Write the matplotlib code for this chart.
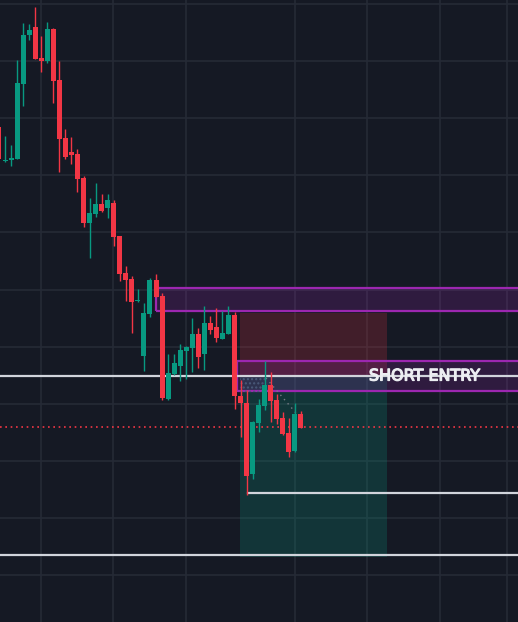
import numpy as np
import matplotlib
matplotlib.use("Agg")
import matplotlib.pyplot as plt
import matplotlib.patheffects as pe
from matplotlib.patches import Rectangle

# candles (price units, higher = up)
opens = [495, 461, 462, 463, 538, 587, 595, 564, 561, 593, 542, 484, 470, 468, 444,
         399, 408, 418, 414, 419, 386, 349, 343, 321, 266, 308, 342, 326, 223, 248,
         256, 271, 274, 288, 268, 299, 295, 283, 288, 307, 226, 219, 148, 199, 216,
         237, 222, 204, 189, 171, 208]
closes = [463, 461, 464, 539, 587, 592, 563, 561, 593, 541, 483, 465, 467, 443, 399,
          409, 418, 411, 422, 385, 348, 342, 320, 322, 309, 342, 325, 224, 249, 259,
          272, 275, 288, 265, 299, 292, 284, 289, 307, 226, 219, 146, 200, 217, 237,
          221, 203, 188, 170, 208, 194]
highs = [497, 486, 477, 562, 599, 598, 615, 586, 600, 594, 561, 493, 485, 473, 446,
         424, 439, 428, 428, 422, 386, 356, 346, 333, 319, 344, 348, 329, 268, 268,
         278, 276, 304, 294, 316, 306, 314, 311, 316, 310, 242, 232, 201, 223, 261,
         250, 228, 210, 204, 219, 211]
lows = [460, 460, 456, 463, 516, 582, 563, 550, 559, 519, 450, 463, 458, 430, 395,
        364, 405, 410, 404, 376, 341, 321, 289, 320, 251, 305, 325, 222, 222, 247,
        241, 243, 250, 254, 252, 288, 280, 283, 288, 213, 185, 127, 143, 190, 212,
        200, 198, 187, 165, 170, 194]

upper_zone = (311, 334)      # supply zone
lower_zone = (231, 261)      # entry zone
entry = 246
stop = 309
target = 65
last_price = 195
swing_low = 129
box_start, box_end = 39.9, 64.2
upper_zone_start = 26.0
lower_zone_start = 39.4
swing_low_start = 41.2

bg = "#151924"
grid_c = "#252a36"
up_c = "#089981"
down_c = "#f23645"
purple = "#9c27b0"
line_c = "#d1d4dc"

fig = plt.figure(figsize=(5.18, 6.22), dpi=100, facecolor=bg)
ax = fig.add_axes([0, 0, 1, 1])
ax.set_facecolor(bg)
ax.set_xlim(0.17, 85.93)
ax.set_ylim(0, 622)
for s in ax.spines.values():
    s.set_visible(False)
ax.set_xticks([])
ax.set_yticks([])

# grid
for gx in [6.95, 18.9, 31.0, 49.0, 60.9, 73.0, 84.1]:
    ax.axvline(gx, color=grid_c, lw=1.2, zorder=0)
for gy in 618 - 57.1 * np.arange(11):
    ax.axhline(gy, color=grid_c, lw=1.2, zorder=0)

# short position tool
ax.add_patch(Rectangle((box_start, entry), box_end - box_start, stop - entry,
                       facecolor=down_c, alpha=0.2, lw=0, zorder=1))
ax.add_patch(Rectangle((box_start, target), box_end - box_start, entry - target,
                       facecolor=up_c, alpha=0.22, lw=0, zorder=1))

# zones
for start, (lo, hi) in [(upper_zone_start, upper_zone), (lower_zone_start, lower_zone)]:
    ax.add_patch(Rectangle((start, lo), 100, hi - lo, facecolor=purple, alpha=0.2,
                           lw=0, zorder=2))
    ax.add_patch(Rectangle((start, lo), 100, hi - lo, facecolor="none",
                           edgecolor=purple, lw=1.6, zorder=2))

# dotted pattern patch
ax.add_patch(Rectangle((39.9, 230), 4.2, 15, facecolor="none", edgecolor="#4a5a7a",
                       hatch="....", lw=0, zorder=2))

# horizontal lines
ax.axhline(entry, color=line_c, lw=1.6, zorder=3)
ax.axhline(target + 2, color=line_c, lw=1.6, zorder=3)
ax.plot([swing_low_start, 90], [swing_low, swing_low], color=line_c, lw=1.6, zorder=3)
ax.axhline(last_price, color=down_c, lw=1.2, ls=(0, (1, 2.2)), zorder=3)

# small dotted trend line
ax.plot([44.2, 49.6], [244, 206], color="#787b86", lw=1, ls=(0, (1, 3)), zorder=3)

# candles
x = np.arange(len(opens))
o = np.array(opens)
c = np.array(closes)
colors = [up_c if cc >= oo else down_c for oo, cc in zip(o, c)]
ax.vlines(x, lows, highs, colors=colors, lw=1, zorder=4)
body = np.maximum(np.abs(c - o), 1.5)
ax.bar(x, body, bottom=np.minimum(o, c), width=0.83, color=colors, lw=0, zorder=5)

ax.text(70.5, entry, "SHORT ENTRY", color="#eceef2", fontsize=11.5,
        fontfamily="DejaVu Sans", ha="center", va="center", zorder=6,
        path_effects=[pe.Stroke(linewidth=0.9, foreground="#eceef2"), pe.Normal()])

fig.savefig("out.png", dpi=100, facecolor=bg)
